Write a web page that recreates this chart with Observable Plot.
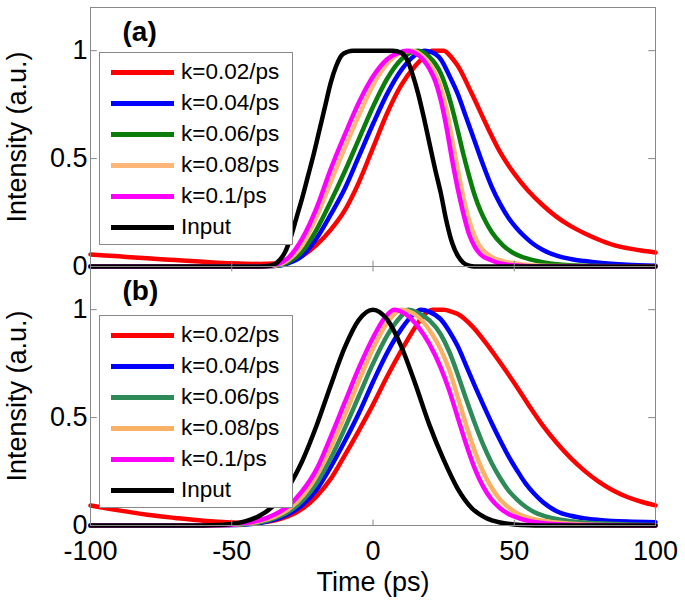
<!DOCTYPE html>
<html>
<head>
<meta charset="utf-8">
<script src="https://cdn.jsdelivr.net/npm/d3@7"></script>
<script src="https://cdn.jsdelivr.net/npm/@observablehq/plot@0.6"></script>
<style>
  body { margin: 0; background: #fff; }
  #wrap { position: relative; width: 685px; height: 602px; font-family: "Liberation Sans", Arial, sans-serif; }
  .legend { position: absolute; left: 99px; width: 194px; background: #fff; border: 1px solid #888; box-sizing: border-box; padding-top: 4px; }
  .row { display: flex; align-items: center; height: 31px; }
  .sw { width: 63px; height: 5px; margin-left: 11px; margin-right: 7px; }
  .lab { font-size: 22.5px; color: #000; line-height: 1; white-space: nowrap; }
</style>
</head>
<body>
<div id="wrap"></div>
<script>
// ---------- data (time in ps, intensity a.u.) ----------
const xTicks = [-100, -50, 0, 50, 100];
const yTicks = [0, 0.5, 1];
const seriesNames = ["k=0.02/ps", "k=0.04/ps", "k=0.06/ps", "k=0.08/ps", "k=0.1/ps", "Input"];
const colorsA = ["#FF0000", "#0000FF", "#0A7D0A", "#FDB677", "#FF00FF", "#000000"];
const colorsB = ["#FF0000", "#0000FF", "#2E8B57", "#FBB165", "#FF00FF", "#000000"];
const panelLabels = ["(a)", "(b)"];

// panel (a)
const aRed = [[-100,0.056],[-90,0.047],[-80,0.038],[-70,0.03],[-60,0.022],[-50,0.015],[-40,0.012],[-35,0.014],[-30,0.025],[-25,0.05],[-20,0.10],[-15,0.17],[-10,0.26],[-5,0.39],[0,0.55],[5,0.71],[10,0.84],[15,0.93],[18,0.97],[21,1.0],[25,1.0],[28,0.965],[30,0.93],[35,0.80],[40,0.66],[45,0.53],[50,0.43],[55,0.35],[60,0.285],[65,0.23],[70,0.187],[75,0.153],[80,0.124],[85,0.10],[90,0.085],[95,0.074],[100,0.065]];
const aBlue = [[-100,0],[-40,0],[-35,0.002],[-30,0.015],[-25,0.05],[-20,0.13],[-15,0.24],[-10,0.36],[-5,0.51],[0,0.66],[5,0.80],[10,0.91],[15,0.98],[18.5,1.0],[22,0.985],[24,0.96],[27,0.885],[30,0.80],[33,0.69],[36,0.58],[39,0.47],[42,0.37],[45,0.29],[48,0.225],[51,0.175],[54,0.135],[57,0.102],[60,0.078],[65,0.05],[70,0.035],[75,0.025],[80,0.017],[90,0.008],[100,0.004]];
const aGreen = [[-100,0],[-40,0],[-35,0.002],[-30,0.02],[-25,0.07],[-20,0.17],[-15,0.30],[-10,0.44],[-5,0.59],[0,0.74],[5,0.87],[10,0.96],[16,1.0],[20,0.97],[22,0.94],[24,0.895],[26,0.825],[28,0.735],[30,0.63],[32,0.52],[34,0.42],[36,0.33],[38,0.26],[40,0.205],[42,0.16],[46,0.098],[50,0.06],[55,0.035],[60,0.02],[65,0.01],[75,0.003],[100,0]];
const aOrange = [[-100,0],[-40,0],[-35,0.003],[-30,0.03],[-25,0.10],[-20,0.23],[-15,0.39],[-10,0.55],[-5,0.70],[0,0.84],[5,0.94],[10,0.99],[14,1.0],[18,0.97],[20,0.94],[22,0.895],[24,0.83],[26,0.73],[28,0.59],[30,0.45],[32,0.32],[34,0.215],[36,0.14],[38,0.09],[42,0.045],[46,0.025],[50,0.015],[56,0.006],[65,0.002],[100,0]];
const aMagenta = [[-100,0],[-40,0],[-36,0.003],[-33,0.015],[-30,0.04],[-25,0.13],[-20,0.27],[-15,0.45],[-10,0.61],[-5,0.76],[0,0.88],[5,0.96],[9,0.99],[12,1.0],[16,0.98],[20,0.915],[22,0.86],[24,0.77],[26,0.645],[28,0.495],[30,0.36],[32,0.245],[34,0.15],[36,0.092],[38,0.057],[42,0.028],[46,0.012],[52,0.004],[60,0.001],[100,0]];
const aInput = [[-100,0],[-40,0],[-36,0.005],[-33,0.03],[-31,0.07],[-29,0.14],[-27,0.23],[-25,0.32],[-23,0.42],[-21,0.52],[-19,0.63],[-17,0.74],[-15,0.85],[-13,0.93],[-11,0.98],[-9,0.995],[-7,1.0],[7,1.0],[10,0.99],[12,0.96],[14,0.89],[16,0.80],[18,0.69],[20,0.57],[22,0.45],[24,0.34],[26,0.21],[28,0.11],[30,0.05],[32,0.017],[34,0.004],[36,0],[100,0]];

// panel (b)
const bRed = [[-100,0.093],[-90,0.07],[-80,0.05],[-70,0.035],[-60,0.022],[-50,0.014],[-45,0.012],[-40,0.014],[-35,0.023],[-30,0.043],[-25,0.078],[-20,0.135],[-15,0.215],[-10,0.325],[-5,0.44],[0,0.56],[5,0.69],[10,0.81],[15,0.92],[18,0.975],[21,1.0],[25,1.0],[28,0.99],[30,0.98],[35,0.925],[40,0.845],[45,0.755],[50,0.66],[55,0.56],[60,0.465],[65,0.383],[70,0.312],[75,0.252],[80,0.202],[85,0.162],[90,0.132],[95,0.11],[100,0.093]];
const bBlue = [[-100,0],[-60,0],[-55,0.001],[-50,0.002],[-45,0.005],[-40,0.012],[-35,0.027],[-30,0.052],[-25,0.095],[-20,0.165],[-15,0.27],[-10,0.39],[-5,0.52],[0,0.665],[5,0.80],[10,0.91],[14,0.975],[17,1.0],[20,0.99],[24,0.955],[27,0.9],[30,0.83],[33,0.74],[36,0.648],[39,0.56],[42,0.475],[45,0.395],[48,0.32],[51,0.255],[54,0.195],[57,0.148],[60,0.11],[65,0.066],[70,0.045],[75,0.033],[80,0.026],[90,0.018],[100,0.015]];
const bGreen = [[-100,0],[-60,0],[-55,0.001],[-50,0.002],[-45,0.006],[-40,0.015],[-35,0.033],[-30,0.063],[-25,0.115],[-20,0.195],[-15,0.31],[-10,0.45],[-5,0.60],[0,0.75],[5,0.88],[10,0.97],[12.5,1.0],[16,0.985],[20,0.95],[24,0.885],[27,0.805],[30,0.70],[33,0.585],[36,0.475],[39,0.375],[42,0.29],[45,0.22],[48,0.162],[51,0.12],[54,0.087],[57,0.063],[60,0.047],[65,0.03],[70,0.02],[80,0.01],[90,0.005],[100,0.002]];
const bOrange = [[-100,0],[-60,0],[-55,0.001],[-50,0.003],[-45,0.009],[-40,0.02],[-35,0.04],[-30,0.075],[-25,0.135],[-20,0.23],[-15,0.36],[-10,0.51],[-5,0.67],[0,0.82],[5,0.94],[10,1.0],[14,0.985],[18,0.94],[21,0.885],[24,0.815],[27,0.72],[30,0.595],[33,0.465],[36,0.345],[39,0.248],[42,0.175],[45,0.12],[48,0.083],[51,0.057],[54,0.04],[60,0.022],[70,0.008],[80,0.002],[100,0]];
const bMagenta = [[-100,0],[-60,0],[-55,0.001],[-50,0.004],[-45,0.012],[-40,0.025],[-35,0.05],[-30,0.09],[-25,0.16],[-20,0.26],[-15,0.41],[-10,0.57],[-5,0.73],[0,0.87],[4,0.96],[7.5,1.0],[12,0.975],[16,0.92],[20,0.84],[24,0.73],[27,0.625],[30,0.50],[33,0.375],[36,0.265],[39,0.18],[42,0.12],[45,0.08],[48,0.053],[52,0.032],[56,0.019],[65,0.006],[75,0.002],[100,0]];
const bInput = [[-100,0],[-60,0],[-55,0.002],[-50,0.007],[-45,0.02],[-40,0.046],[-35,0.094],[-30,0.177],[-25,0.30],[-20,0.462],[-15,0.648],[-10,0.825],[-5,0.953],[0,1.0],[5,0.955],[10,0.83],[15,0.655],[20,0.465],[25,0.305],[30,0.17],[35,0.08],[40,0.035],[45,0.014],[50,0.005],[55,0.001],[60,0],[100,0]];

const panelA = [aRed, aBlue, aGreen, aOrange, aMagenta, aInput];
const panelB = [bRed, bBlue, bGreen, bOrange, bMagenta, bInput];

// ---------- build tidy rows ----------
function rowsOf(panel, arrays) {
  return arrays.map((arr, i) => arr.map(([t, v]) => ({panel, series: seriesNames[i], t, v})));
}
const rowsA = rowsOf("a", panelA);
const rowsB = rowsOf("b", panelB);

const lineMarks = [];
seriesNames.forEach((name, i) => {
  lineMarks.push(Plot.line(rowsA[i], {x: "t", y: "v", fy: "panel", stroke: colorsA[i], strokeWidth: 4.5, curve: "monotone-x"}));
  lineMarks.push(Plot.line(rowsB[i], {x: "t", y: "v", fy: "panel", stroke: colorsB[i], strokeWidth: 4.5, curve: "monotone-x"}));
});

const innerX = xTicks.slice(1, -1);
const innerY = yTicks.slice(1);
const fmt = d => String(d);

const chart = Plot.plot({
  width: 685,
  height: 602,
  marginLeft: 90,
  marginRight: 30,
  marginTop: 6,
  marginBottom: 77,
  x: {domain: [-100, 100]},
  y: {domain: [0, 1.2]},
  fy: {domain: ["a", "b"], padding: 0, axis: null},
  style: {fontFamily: "'Liberation Sans', Arial, sans-serif", fontSize: "27px", color: "#000", background: "#fff", overflow: "visible"},
  marks: [
    ...lineMarks,
    // inward ticks
    Plot.ruleY(innerY, {y: d => d, x1: 100, x2: 97.6, stroke: "#888"}),
    Plot.ruleY(innerY, {y: d => d, x1: -100, x2: -97.6, stroke: "#888"}),
    Plot.ruleX(innerX, {x: d => d, y1: 0, y2: 0.025, stroke: "#888"}),
    Plot.ruleX(innerX.map(x => ({x, panel: "b"})), {x: "x", fy: "panel", y1: 1.2, y2: 1.175, stroke: "#888"}),
    Plot.frame({stroke: "#888", strokeWidth: 1}),
    Plot.axisY({ticks: yTicks, tickFormat: fmt, tickSize: 0, tickPadding: 3, fontSize: 27, label: null}),
    Plot.axisX({ticks: xTicks, tickFormat: fmt, tickSize: 0, tickPadding: 15, fontSize: 27, label: null}),
    Plot.text(["Intensity (a.u.)"], {frameAnchor: "left", rotate: -90, dx: -73, fontSize: 27, textAnchor: "middle"}),
    Plot.text([{panel: "b", label: "Time (ps)"}], {fy: "panel", text: "label", frameAnchor: "bottom", dy: 57, fontSize: 27, lineAnchor: "middle"}),
    Plot.text([{panel: "a", label: panelLabels[0]}, {panel: "b", label: panelLabels[1]}],
      {fy: "panel", text: "label", frameAnchor: "top-left", dx: 32, dy: 14, textAnchor: "start", lineAnchor: "top", fontWeight: "bold", fontSize: 28})
  ]
});

const wrap = document.getElementById("wrap");
wrap.appendChild(chart);

// ---------- legends (overlaid inside each panel) ----------
function legend(top, colors) {
  const box = document.createElement("div");
  box.className = "legend";
  box.style.top = top + "px";
  seriesNames.forEach((name, i) => {
    const row = document.createElement("div");
    row.className = "row";
    const sw = document.createElement("div");
    sw.className = "sw";
    sw.style.background = colors[i];
    const lab = document.createElement("span");
    lab.className = "lab";
    lab.textContent = name;
    row.appendChild(sw);
    row.appendChild(lab);
    box.appendChild(row);
  });
  box.style.height = (4 + 31 * seriesNames.length + 3) + "px";
  wrap.appendChild(box);
}
legend(52, colorsA);
legend(315, colorsB);
</script>
</body>
</html>
